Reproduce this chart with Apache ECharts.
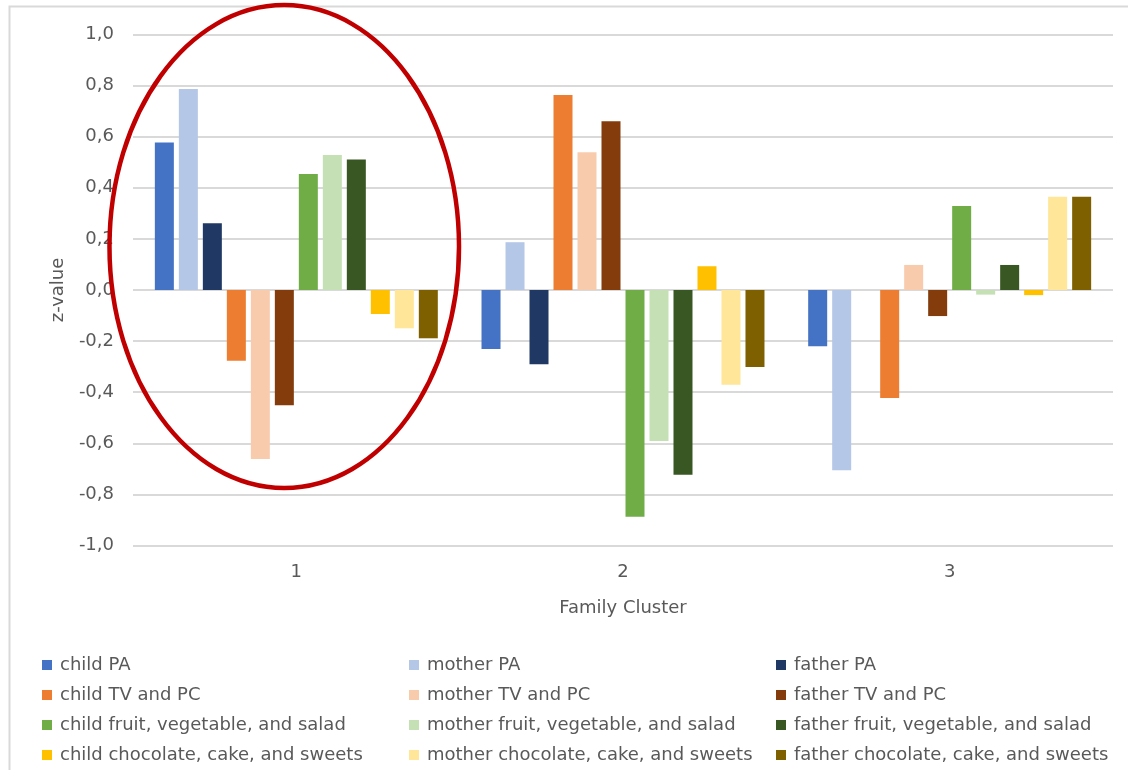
<!DOCTYPE html>
<html>
<head>
<meta charset="utf-8">
<script src="https://cdn.jsdelivr.net/npm/echarts@6/dist/echarts.min.js"></script>
<style>
  html, body { margin: 0; padding: 0; background: #ffffff; }
  #chart { width: 1128px; height: 770px; }
</style>
</head>
<body>
<div id="chart"></div>
<script>
// Family clusters on the x axis
const clusters = ['1', '2', '3'];

// z-values per cluster (1, 2, 3)
const childPA        = [0.577, -0.231, -0.22];
const motherPA       = [0.787, 0.187, -0.705];
const fatherPA       = [0.261, -0.291, 0];
const childTV        = [-0.277, 0.763, -0.423];
const motherTV       = [-0.661, 0.539, 0.098];
const fatherTV       = [-0.451, 0.660, -0.102];
const childFruit     = [0.454, -0.887, 0.329];
const motherFruit    = [0.528, -0.591, -0.018];
const fatherFruit    = [0.511, -0.723, 0.098];
const childSweets    = [-0.094, 0.093, -0.02];
const motherSweets   = [-0.150, -0.371, 0.365];
const fatherSweets   = [-0.189, -0.301, 0.365];

const seriesNames = [
  'child PA', 'mother PA', 'father PA',
  'child TV and PC', 'mother TV and PC', 'father TV and PC',
  'child fruit, vegetable, and salad', 'mother fruit, vegetable, and salad', 'father fruit, vegetable, and salad',
  'child chocolate, cake, and sweets', 'mother chocolate, cake, and sweets', 'father chocolate, cake, and sweets'
];
const seriesValues = [
  childPA, motherPA, fatherPA,
  childTV, motherTV, fatherTV,
  childFruit, motherFruit, fatherFruit,
  childSweets, motherSweets, fatherSweets
];
const seriesColors = [
  '#4472C4', '#B4C7E7', '#203864',
  '#ED7D31', '#F8CBAD', '#843C0C',
  '#70AD47', '#C5E0B4', '#385723',
  '#FFC000', '#FFE699', '#7F6000'
];

// y axis ticks, shown with a decimal comma
const yTicks = [-1.0, -0.8, -0.6, -0.4, -0.2, 0.0, 0.2, 0.4, 0.6, 0.8, 1.0];

// highlighted group: centred on cluster 1, in axis units
const highlight = { cluster: 0, offset: -0.037, centerValue: 0.17, halfWidth: 0.535, halfHeight: 0.945 };

const FONT = '"DejaVu Sans", sans-serif';
const TEXT = '#595959';
const GRID = '#D9D9D9';

const chart = echarts.init(document.getElementById('chart'), null, { renderer: 'canvas' });

const series = seriesNames.map((name, i) => ({
  name: name,
  type: 'bar',
  data: seriesValues[i],
  barWidth: 19,
  barGap: '26.3%',
  itemStyle: { color: seriesColors[i] },
  emphasis: { disabled: true }
}));

function legendColumn(start, left) {
  const names = [seriesNames[start], seriesNames[start + 3], seriesNames[start + 6], seriesNames[start + 9]];
  return {
    orient: 'vertical',
    left: left,
    top: 655,
    data: names.map(n => ({ name: n, icon: 'rect' })),
    itemWidth: 10,
    itemHeight: 10,
    itemGap: 10,
    selectedMode: false,
    padding: 0,
    textStyle: { fontFamily: FONT, fontSize: 18, color: TEXT, lineHeight: 20, padding: [0, 0, 0, 3] }
  };
}

chart.setOption({
  animation: false,
  backgroundColor: '#ffffff',
  grid: { left: 133, right: 15, top: 34.5, bottom: 224.5, containLabel: false },
  legend: [legendColumn(0, 42), legendColumn(1, 409), legendColumn(2, 776)],
  xAxis: {
    type: 'category',
    data: clusters,
    name: 'Family Cluster',
    nameLocation: 'middle',
    nameGap: 54,
    nameTextStyle: { fontFamily: FONT, fontSize: 18, color: TEXT },
    axisLine: { show: false, onZero: false },
    axisTick: { show: false },
    axisLabel: { fontFamily: FONT, fontSize: 18, color: TEXT, margin: 18 }
  },
  yAxis: {
    type: 'value',
    min: -1,
    max: 1,
    interval: 0.2,
    name: 'z-value',
    nameLocation: 'middle',
    nameGap: 66,
    nameRotate: 90,
    nameTextStyle: { fontFamily: FONT, fontSize: 18, color: TEXT },
    axisLine: { show: false },
    axisTick: { show: false },
    splitLine: { lineStyle: { color: GRID, width: 2 } },
    axisLabel: {
      fontFamily: FONT, fontSize: 18, color: TEXT, margin: 19,
      formatter: v => {
        const t = yTicks.find(k => Math.abs(k - v) < 1e-9);
        return (t === undefined ? v : t).toFixed(1).replace('.', ',');
      }
    }
  },
  series: series
});

// outer frame and the ellipse around cluster 1
function drawOverlay() {
  const cx0 = chart.convertToPixel({ xAxisIndex: 0 }, highlight.cluster);
  const cx1 = chart.convertToPixel({ xAxisIndex: 0 }, highlight.cluster + 1);
  const catW = cx1 - cx0;
  const cy = chart.convertToPixel({ yAxisIndex: 0 }, highlight.centerValue);
  const unit = chart.convertToPixel({ yAxisIndex: 0 }, 0) - chart.convertToPixel({ yAxisIndex: 0 }, 1);
  chart.setOption({
    graphic: [
      {
        type: 'rect',
        silent: true,
        shape: { x: 9.5, y: 6.5, width: 1200, height: 800 },
        style: { fill: null, stroke: GRID, lineWidth: 2 }
      },
      {
        type: 'ellipse',
        silent: true,
        z: 100,
        shape: {
          cx: cx0 + highlight.offset * catW,
          cy: cy,
          rx: highlight.halfWidth * catW,
          ry: highlight.halfHeight * unit
        },
        style: { fill: null, stroke: '#C00000', lineWidth: 4.5 }
      }
    ]
  });
}
drawOverlay();
</script>
</body>
</html>
